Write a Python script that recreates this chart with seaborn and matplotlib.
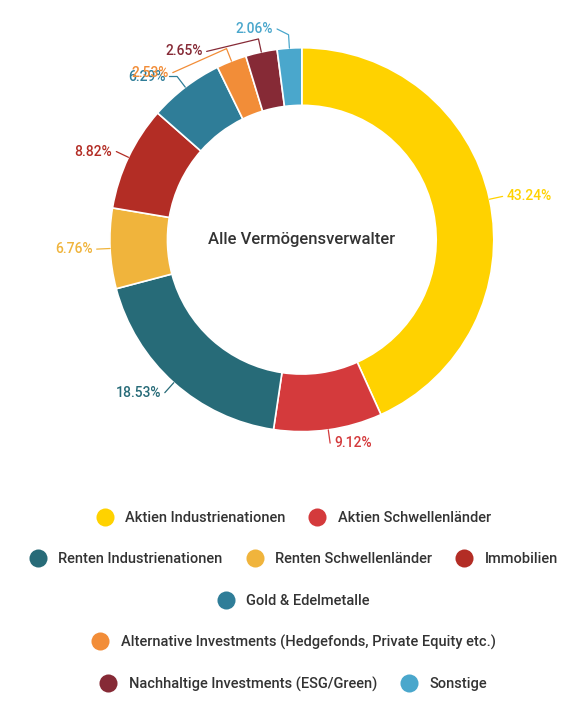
import matplotlib
matplotlib.use("Agg")
import matplotlib.pyplot as plt
import seaborn as sns
import numpy as np
from matplotlib.lines import Line2D

sns.set_theme(style="white")
plt.rcParams['font.family'] = ['Roboto', 'DejaVu Sans']

categories = ["Aktien Industrienationen", "Aktien Schwellenländer", "Renten Industrienationen",
              "Renten Schwellenländer", "Immobilien", "Gold & Edelmetalle",
              "Alternative Investments (Hedgefonds, Private Equity etc.)",
              "Nachhaltige Investments (ESG/Green)", "Sonstige"]
values = [43.24, 9.12, 18.53, 6.76, 8.82, 6.29, 2.53, 2.65, 2.06]
colors = ["#FFD200", "#D43A3C", "#276B78", "#F0B43C", "#B32D25", "#2F7D98", "#F28D38", "#862A36", "#4AA7CC"]
legend_rows = [[0, 1], [2, 3, 4], [5], [6], [7, 8]]

fig = plt.figure(figsize=(5.81, 7.05), dpi=100)
ax = fig.add_axes([0.090, 0.306, 0.859, 0.708])
wedges, _ = ax.pie(values, colors=colors, startangle=90, counterclock=False,
                   wedgeprops=dict(width=0.30, edgecolor="white", linewidth=1.2))
ax.set_xlim(-1.3, 1.3); ax.set_ylim(-1.3, 1.3); ax.set_aspect("equal")
ax.text(0, 0, "Alle Vermögensverwalter", ha="center", va="center", fontsize=12, color="#333333", fontweight="medium")

# label offsets (dx, dy) for crowded top slices
adjust = {6: (-0.28, -0.125), 7: (-0.27, -0.065), 8: (-0.06, 0.03), 5: (-0.04, 0.0)}
for i, (w, v) in enumerate(zip(wedges, values)):
    ang = np.deg2rad((w.theta1 + w.theta2) / 2)
    x0, y0 = np.cos(ang), np.sin(ang)
    x1, y1 = 1.07 * x0, 1.07 * y0
    dx, dy = adjust.get(i, (0, 0))
    x2, y2 = x1 + dx, y1 + dy
    ax.plot([x0, x1, x2], [y0, y1, y2], color=colors[i], lw=0.9)
    ha = "left" if x2 >= 0 and i not in adjust else "right"
    ax.text(x2 + (0.02 if ha == "left" else -0.02), y2, f"{v:.2f}%", ha=ha, va="center",
            fontsize=10, color=colors[i], fontweight="medium")

ys = [518, 559, 601, 642, 684]
for row, y in zip(legend_rows, ys):
    handles = [Line2D([], [], marker="o", linestyle="", markersize=13, markerfacecolor=colors[i],
                      markeredgecolor="none") for i in row]
    fig.legend(handles, [categories[i] for i in row], loc="center", bbox_to_anchor=(0.5, 1 - y / 705),
               ncol=len(row), frameon=False, fontsize=10.5, handletextpad=0.4, columnspacing=1.2,
               labelcolor="#333333", prop={"weight": "medium", "size": 10.5})

fig.savefig("out.png", dpi=100)
